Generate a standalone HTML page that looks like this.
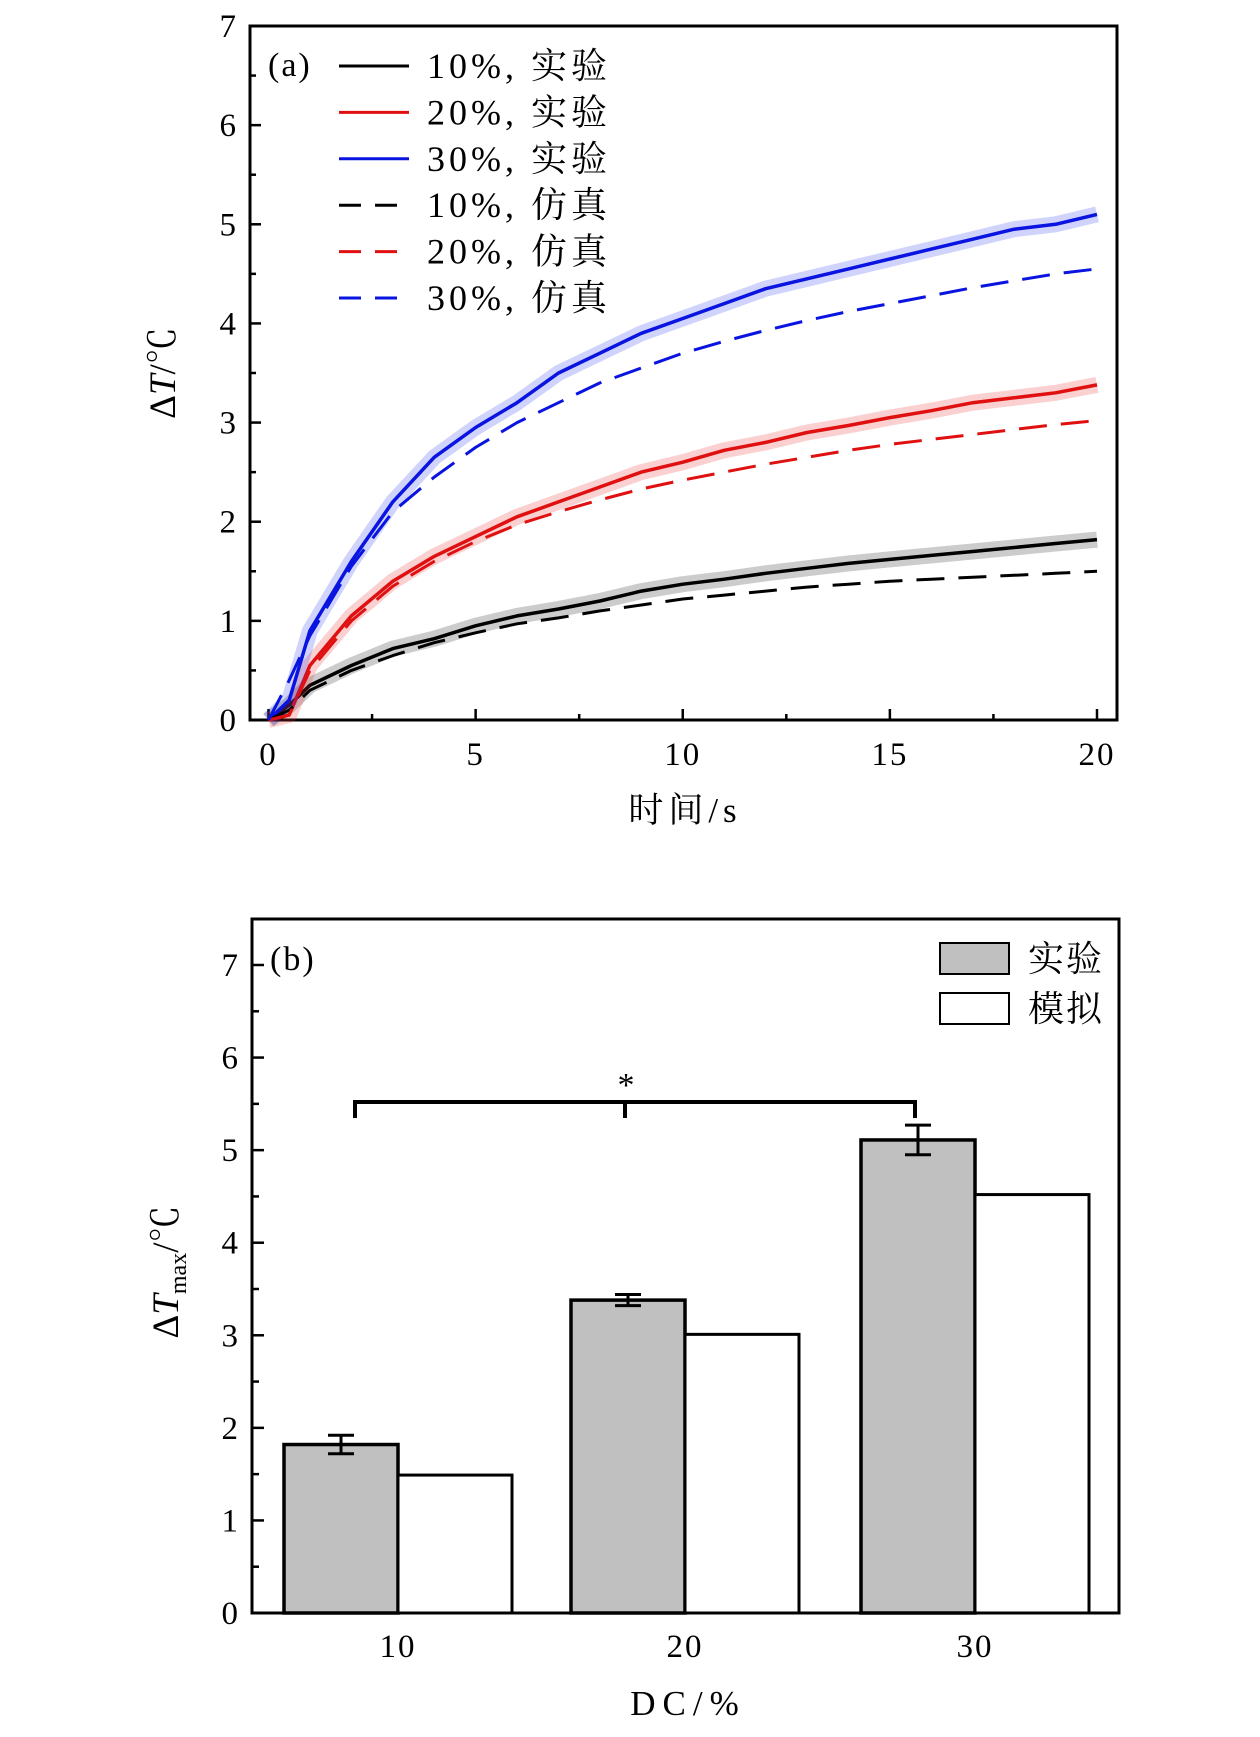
<!DOCTYPE html>
<html><head><meta charset="utf-8"><style>
body{margin:0;background:#fff}
svg text{font-family:"Liberation Serif","Noto Serif CJK SC","Noto Sans CJK SC",serif;fill:#000}
</style></head><body>
<svg id="fig" width="1260" height="1732" viewBox="0 0 1260 1732" xmlns="http://www.w3.org/2000/svg"></svg>
<script>
const tA=[0,0.5,1,2,3,4,5,6,7,8,9,10,11,12,13,14,15,16,17,18,19,20];
const exp10=[0,0.15,0.35,0.55,0.72,0.82,0.95,1.05,1.12,1.2,1.3,1.37,1.42,1.48,1.53,1.58,1.62,1.66,1.7,1.74,1.78,1.82];
const exp20=[0,0.05,0.55,1.05,1.4,1.65,1.85,2.05,2.2,2.35,2.5,2.6,2.72,2.8,2.9,2.97,3.05,3.12,3.2,3.25,3.3,3.38];
const exp30=[0,0.2,0.9,1.6,2.2,2.65,2.95,3.2,3.5,3.7,3.9,4.05,4.2,4.35,4.45,4.55,4.65,4.75,4.85,4.95,5.0,5.1];
const sim10=[0,0.1,0.3,0.5,0.65,0.78,0.88,0.97,1.03,1.1,1.16,1.22,1.26,1.3,1.34,1.37,1.4,1.42,1.44,1.46,1.48,1.5];
const sim20=[0,0.05,0.5,1.0,1.35,1.6,1.8,1.97,2.1,2.22,2.33,2.42,2.5,2.58,2.65,2.72,2.78,2.83,2.88,2.93,2.98,3.02];
const sim30=[0,0.4,0.85,1.55,2.1,2.45,2.75,3.0,3.2,3.4,3.55,3.7,3.82,3.93,4.03,4.12,4.2,4.28,4.36,4.43,4.5,4.55];
const xTicksA=[0,5,10,15,20];
const yTicks=[0,1,2,3,4,5,6,7];
const dcCats=["10","20","30"];
const expMax=[1.82,3.38,5.11];
const expErr=[0.1,0.06,0.16];
const simMax=[1.49,3.01,4.52];

const NS="http://www.w3.org/2000/svg";
const svg=document.getElementById('fig');
function mk(tag,attrs,parent,text){const e=document.createElementNS(NS,tag);for(const k in attrs)e.setAttribute(k,attrs[k]);if(text!==undefined)e.textContent=text;(parent||svg).appendChild(e);return e;}

// Panel A
const A={l:250,r:1117,t:26,b:720};
const xA=v=>268.5+v*(1097-268.5)/20;
const yA=v=>720-v*(720-26)/7;
const gA=mk('g',{});


let r=mk('rect',{x:A.l,y:A.t,width:A.r-A.l,height:A.b-A.t,fill:'none',stroke:'#000','stroke-width':3},gA);

for(let v=0;v<=7;v+=0.5){const y=yA(v);const len=(v%1===0)?11:6;mk('line',{x1:A.l,x2:A.l+len,y1:y,y2:y,stroke:'#000','stroke-width':2.5},gA);}
for(let v=0;v<=20;v+=2.5){const x=xA(v);const len=(v%5===0)?11:6;mk('line',{x1:x,x2:x,y1:A.b,y2:A.b-len,stroke:'#000','stroke-width':2.5},gA);}
yTicks.forEach(v=>{const t=mk('text',{x:236,y:yA(v)+11,'font-size':33,'text-anchor':'end'},gA,v);});
xTicksA.forEach(v=>{const t=mk('text',{x:xA(v),y:765,'font-size':33,'text-anchor':'middle','letter-spacing':2},gA,v);});
let xt=mk('text',{x:685,y:822,'font-size':35,'text-anchor':'middle','letter-spacing':5},gA,'时间/s');

let yt=mk('text',{transform:'translate(175,373) rotate(-90)','font-size':37,'text-anchor':'middle'},gA);

yt.innerHTML='Δ<tspan font-style="italic">T</tspan>/℃';
function pts(arr){return arr.map((v,i)=>xA(tA[i]).toFixed(1)+','+yA(v).toFixed(1)).join(' ');}
const series=[[exp10,'#000','exp'],[exp20,'#e01010','exp'],[exp30,'#0a14e0','exp'],[sim10,'#000','sim'],[sim20,'#e01010','sim'],[sim30,'#0a14e0','sim']];
const bands=['rgba(0,0,0,0.2)','rgba(230,40,40,0.22)','rgba(40,60,240,0.22)'];
series.forEach((s,i)=>{
 if(s[2]==='exp'){const b=mk('polyline',{points:pts(s[0]),fill:'none',stroke:bands[i],'stroke-width':16,'stroke-linejoin':'round'},gA);}
 const p=mk('polyline',{points:pts(s[0]),fill:'none',stroke:s[1],'stroke-width':s[2]==='exp'?3.5:3,'stroke-dasharray':s[2]==='sim'?'28,14':'none','stroke-linejoin':'round'},gA);
 
 
});
let la=mk('text',{x:268,y:76,'font-size':34,'letter-spacing':2},gA,'(a)');
const legLabels=['10%, 实验','20%, 实验','30%, 实验','10%, 仿真','20%, 仿真','30%, 仿真'];
series.forEach((s,i)=>{const y=66+i*46.4;
 const g=mk('g',{},gA);
 mk('line',{x1:339,x2:409,y1:y,y2:y,stroke:s[1],'stroke-width':3,'stroke-dasharray':s[2]==='sim'?'22,14':'none'},g);
 mk('text',{x:427,y:y+12,'font-size':36,'letter-spacing':4},g,legLabels[i]);});

// Panel B
const B={l:252,r:1119,t:919,b:1613};
const yB=v=>1613-v*(1613-965)/7;
const gB=mk('g',{});

r=mk('rect',{x:B.l,y:B.t,width:B.r-B.l,height:B.b-B.t,fill:'none',stroke:'#000','stroke-width':3},gB);

for(let v=0;v<=7.5;v+=0.5){const y=yB(v);if(y<B.t)continue;const len=(v%1===0)?12:7;mk('line',{x1:B.l,x2:B.l+len,y1:y,y2:y,stroke:'#000','stroke-width':2.5},gB);}
yTicks.forEach(v=>{const t=mk('text',{x:238,y:yB(v)+11,'font-size':33,'text-anchor':'end'},gB,v);});
const grpC=[398,685,975], bw=114;
dcCats.forEach((c,i)=>{const cx=grpC[i];
 const g=mk('rect',{x:cx-bw,y:yB(expMax[i]),width:bw,height:B.b-yB(expMax[i]),fill:'#c0c0c0',stroke:'#000','stroke-width':3.5},gB);
 
 const w=mk('rect',{x:cx,y:yB(simMax[i]),width:bw,height:B.b-yB(simMax[i]),fill:'#fff',stroke:'#000','stroke-width':3},gB);
 
 const ex=cx-bw/2;const e=mk('g',{},gB);
 mk('line',{x1:ex,x2:ex,y1:yB(expMax[i]+expErr[i]),y2:yB(expMax[i]-expErr[i]),stroke:'#000','stroke-width':3},e);
 mk('line',{x1:ex-13,x2:ex+13,y1:yB(expMax[i]+expErr[i]),y2:yB(expMax[i]+expErr[i]),stroke:'#000','stroke-width':3},e);
 mk('line',{x1:ex-13,x2:ex+13,y1:yB(expMax[i]-expErr[i]),y2:yB(expMax[i]-expErr[i]),stroke:'#000','stroke-width':3},e);
 const t=mk('text',{x:cx,y:1657,'font-size':33,'text-anchor':'middle','letter-spacing':2},gB,c);
});
const br=mk('path',{d:'M355,1118 V1102 H915 V1118 M625,1102 V1118',fill:'none',stroke:'#000','stroke-width':4},gB);

let st=mk('text',{x:626,y:1096,'font-size':34,'text-anchor':'middle'},gB,'*');
let lb=mk('text',{x:270,y:970,'font-size':34,'letter-spacing':2},gB,'(b)');
[['#c0c0c0','实验',943],['#fff','模拟',993]].forEach(l=>{const g=mk('g',{},gB);
 mk('rect',{x:940,y:l[2],width:69,height:31,fill:l[0],stroke:'#000','stroke-width':2},g);
 mk('text',{x:1028,y:l[2]+28,'font-size':36,'letter-spacing':2},g,l[1]);});
xt=mk('text',{x:688,y:1715,'font-size':35,'text-anchor':'middle','letter-spacing':7},gB,'DC/%');
yt=mk('text',{transform:'translate(178,1272) rotate(-90)','font-size':37,'text-anchor':'middle'},gB);

yt.innerHTML='Δ<tspan font-style="italic">T</tspan><tspan font-size="24" dy="8">max</tspan><tspan dy="-8">/℃</tspan>';
</script>
</body></html>
